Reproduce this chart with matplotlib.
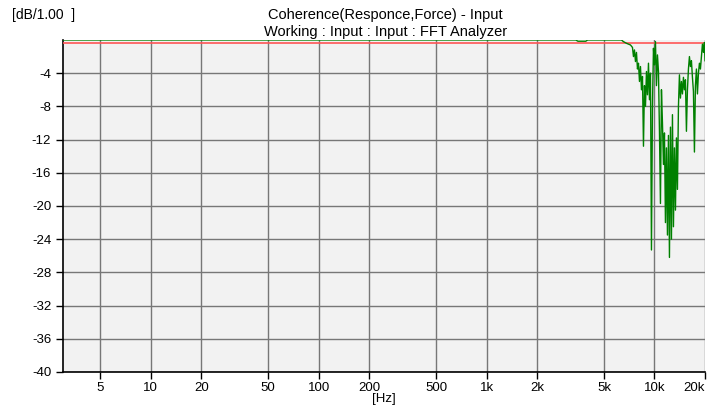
import numpy as np
import matplotlib.pyplot as plt

plt.rcParams['font.family'] = ['Liberation Sans', 'DejaVu Sans']

# coherence data (Hz, dB)
freq = [3, 1000, 3000, 3400, 3500, 3900, 4000, 5500, 6358, 6535, 6813, 7002, 7197, 7397,
        7499, 7602, 7707, 7814, 7922, 8031, 8142, 8254, 8368, 8484, 8601, 8719, 8840,
        8962, 9085, 9211, 9338, 9467, 9597, 9730, 9864, 10000, 10138, 10278, 10420,
        10564, 10709, 10857, 11007, 11159, 11313, 11469, 11627, 11787, 11950, 12115,
        12282, 12452, 12623, 12798, 12974, 13153, 13335, 13519, 13705, 13894, 14086,
        14280, 14477, 14677, 14880, 15085, 15293, 15504, 15718, 15935, 16155, 16378,
        16604, 16833, 17065, 17301, 17539, 17781, 18027, 18275, 18528, 18783, 19042,
        19305, 19572, 19842, 20000]
coh_db = [0, 0, 0, 0, -0.15, -0.15, 0, 0, 0, -0.2, -0.4, -0.5, -0.6, -0.9,
          -2.0, -1.2, -2.6, -1.5, -3.5, -2.8, -5.0, -3.2, -6.0, -4.4, -12.8, -5.5, -8.0,
          -3.8, -6.6, -2.8, -7.2, -4.0, -25.3, -8.0, -1.0, -3.0, -0.2, -5.5, -1.8,
          -3.8, -11.0, -19.7, -6.0, -10.0, -15.0, -11.2, -22.0, -13.0, -23.5, -11.5,
          -26.2, -10.5, -24.0, -9.0, -22.5, -13.0, -20.5, -11.8, -18.0, -8.0, -4.2,
          -7.0, -5.0, -6.5, -4.5, -6.0, -4.8, -11.0, -6.0, -3.5, -2.0, -3.2,
          -2.5, -4.5, -6.2, -13.5, -5.5, -3.5, -6.5, -4.0, -2.8, -3.5, -2.0,
          -0.5, -1.5, -0.3, -2.5]
ref_freq = [3, 20000]
ref_db = [-0.4, -0.4]

xticks = [5, 10, 20, 50, 100, 200, 500, 1000, 2000, 5000, 10000, 20000]
xtick_labels = ['5', '10', '20', '50', '100', '200', '500', '1k', '2k', '5k', '10k', '20k']
yticks = [-4, -8, -12, -16, -20, -24, -28, -32, -36, -40]

fig = plt.figure(figsize=(7.14, 4.05), dpi=100)
ax = fig.add_axes([0.0882, 0.0815, 0.8992, 0.8198])
ax.set_facecolor('#f2f2f2')

ax.plot(ref_freq, ref_db, color='#ff5555', linewidth=1.2, zorder=3)
ax.plot(freq, coh_db, color='#008000', linewidth=1.0, zorder=4)

ax.set_xscale('log')
ax.set_xlim(3, 20000)
ax.set_ylim(-40, 0)
ax.set_xticks(xticks)
ax.set_xticklabels(xtick_labels)
ax.get_xticklabels()[-1].set_horizontalalignment('right')
ax.minorticks_off()
ax.set_yticks(yticks)
ax.set_yticklabels([str(v) for v in yticks])
ax.tick_params(direction='out', length=5, labelsize=9.5, width=1)
ax.tick_params(axis='x', pad=2)
ax.grid(True, color='#777777', linewidth=1)

for s in ['top', 'right']:
    ax.spines[s].set_visible(False)
ax.spines['left'].set_linewidth(1.2)
ax.spines['bottom'].set_linewidth(1.2)

fig.text(0.54, 0.962, 'Coherence(Responce,Force) - Input', ha='center', va='center', fontsize=10.5)
fig.text(0.54, 0.92, 'Working : Input : Input : FFT Analyzer', ha='center', va='center', fontsize=10.5)
fig.text(0.017, 0.962, '[dB/1.00  ]', ha='left', va='center', fontsize=10)
fig.text(0.537, 0.016, '[Hz]', ha='center', va='center', fontsize=9.5)

plt.savefig('out.png', dpi=100)
